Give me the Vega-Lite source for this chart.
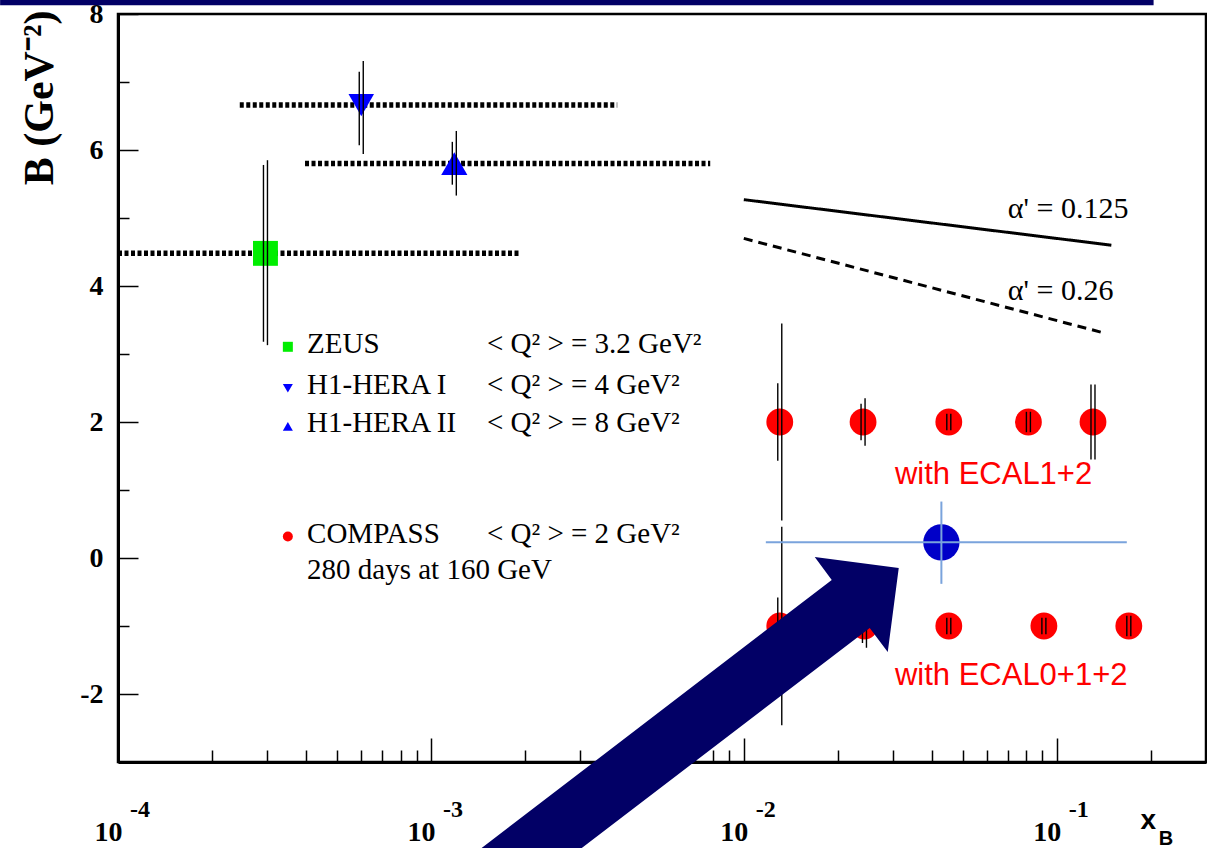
{
  "$schema": "https://vega.github.io/schema/vega-lite/v6.json",
  "width": 1088,
  "height": 748,
  "autosize": {"type": "none"},
  "padding": {"left": 118, "top": 14, "right": 1, "bottom": 86},
  "background": "white",
  "config": {
    "view": {"stroke": "#000000", "strokeWidth": 2.5},
    "axis": {"grid": false}
  },
  "datasets": {
    "measurements": [
      {"series": "ZEUS", "x": 0.000296, "B": 4.48, "xlo": 0.0001, "xhi": 0.00193, "stat_lo": 3.18, "stat_hi": 5.78, "tot_lo": 3.13, "tot_hi": 5.85},
      {"series": "H1-HERA I", "x": 0.000599, "B": 6.66, "xlo": 0.000245, "xhi": 0.00394, "stat_lo": 6.07, "stat_hi": 7.15, "tot_lo": 5.94, "tot_hi": 7.31},
      {"series": "H1-HERA II", "x": 0.001188, "B": 5.8, "xlo": 0.000396, "xhi": 0.00781, "stat_lo": 5.49, "stat_hi": 6.12, "tot_lo": 5.33, "tot_hi": 6.28},
      {"series": "COMPASS", "setup": "ECAL1+2", "x": 0.01303, "B": 2, "stat_lo": 1.43, "stat_hi": 2.57, "tot_lo": 0.55, "tot_hi": 3.45},
      {"series": "COMPASS", "setup": "ECAL1+2", "x": 0.02405, "B": 2, "stat_lo": 1.73, "stat_hi": 2.27, "tot_lo": 1.65, "tot_hi": 2.35},
      {"series": "COMPASS", "setup": "ECAL1+2", "x": 0.0452, "B": 2, "stat_lo": 1.88, "stat_hi": 2.12, "tot_lo": 1.88, "tot_hi": 2.12},
      {"series": "COMPASS", "setup": "ECAL1+2", "x": 0.0812, "B": 2, "stat_lo": 1.85, "stat_hi": 2.15, "tot_lo": 1.85, "tot_hi": 2.15},
      {"series": "COMPASS", "setup": "ECAL1+2", "x": 0.1306, "B": 2, "stat_lo": 1.45, "stat_hi": 2.55, "tot_lo": 1.45, "tot_hi": 2.55},
      {"series": "COMPASS", "setup": "ECAL0+1+2", "x": 0.01303, "B": -1, "stat_lo": -1.42, "stat_hi": -0.58, "tot_lo": -2.46, "tot_hi": 0.46},
      {"series": "COMPASS", "setup": "ECAL0+1+2", "x": 0.0243, "B": -1, "stat_lo": -1.25, "stat_hi": -0.75, "tot_lo": -1.32, "tot_hi": -0.68},
      {"series": "COMPASS", "setup": "ECAL0+1+2", "x": 0.0452, "B": -1, "stat_lo": -1.12, "stat_hi": -0.88, "tot_lo": -1.12, "tot_hi": -0.88},
      {"series": "COMPASS", "setup": "ECAL0+1+2", "x": 0.091, "B": -1, "stat_lo": -1.12, "stat_hi": -0.88, "tot_lo": -1.12, "tot_hi": -0.88},
      {"series": "COMPASS", "setup": "ECAL0+1+2", "x": 0.17, "B": -1, "stat_lo": -1.15, "stat_hi": -0.85, "tot_lo": -1.15, "tot_hi": -0.85}
    ],
    "projection": [
      {"x": 0.0428, "B": 0.23, "xlo": 0.01176, "xhi": 0.1675, "ylo": -0.38, "yhi": 0.83}
    ],
    "regge": [
      {"alpha": "0.125", "x": 0.01, "B": 5.27},
      {"alpha": "0.125", "x": 0.1495, "B": 4.6},
      {"alpha": "0.26", "x": 0.01, "B": 4.7},
      {"alpha": "0.26", "x": 0.1442, "B": 3.3}
    ],
    "legend": [
      {"series": "ZEUS", "name": "ZEUS", "q2": "< Q² > = 3.2 GeV²", "B": 3.15},
      {"series": "H1-HERA I", "name": "H1-HERA I", "q2": "< Q² > = 4 GeV²", "B": 2.54},
      {"series": "H1-HERA II", "name": "H1-HERA II", "q2": "< Q² > = 8 GeV²", "B": 1.98},
      {"series": "COMPASS", "name": "COMPASS", "q2": "< Q² > = 2 GeV²", "B": 0.36},
      {"series": null, "name": "280 days at 160 GeV", "q2": "", "B": -0.18}
    ],
    "notes": [
      {"group": "regge", "text": "α' = 0.125", "x": 0.0698, "B": 5.13},
      {"group": "regge", "text": "α' = 0.26", "x": 0.0698, "B": 3.93},
      {"group": "compass", "text": "with ECAL1+2", "x": 0.0304, "B": 1.22},
      {"group": "compass", "text": "with ECAL0+1+2", "x": 0.0304, "B": -1.74},
      {"group": "subscript", "text": "B", "x": 0.212, "B": -4.22},
      {"group": "exponent", "text": "-4", "x": 0.0001, "B": -3.81},
      {"group": "exponent", "text": "-3", "x": 0.001, "B": -3.81},
      {"group": "exponent", "text": "-2", "x": 0.01, "B": -3.81},
      {"group": "exponent", "text": "-1", "x": 0.1, "B": -3.81}
    ],
    "decor": [
      {"part": "banner", "x": 0.000042, "x2": 0.204, "B": 8.13, "B2": 8.3},
      {"part": "arrow", "x": 0.00525, "B": -2.507}
    ]
  },
  "layer": [
    {
      "data": {"name": "measurements"},
      "transform": [{"filter": "isValid(datum.xlo)"}],
      "mark": {"type": "rule", "color": "#000000", "strokeWidth": 5.5, "strokeDash": [4, 2.5]},
      "encoding": {
        "x": {
          "field": "xlo",
          "type": "quantitative",
          "scale": {"type": "log", "domain": [0.0001, 0.3], "nice": false},
          "axis": {
            "values": [0.0001, 0.0002, 0.0003, 0.0004, 0.0005, 0.0006, 0.0007, 0.0008, 0.0009,
                       0.001, 0.002, 0.003, 0.004, 0.005, 0.006, 0.007, 0.008, 0.009,
                       0.01, 0.02, 0.03, 0.04, 0.05, 0.06, 0.07, 0.08, 0.09, 0.1, 0.2],
            "title": "x",
            "titleFont": "Liberation Sans",
            "titleFontSize": 28,
            "titleFontWeight": "bold",
            "titleColor": "#000000",
            "titleAngle": 0,
            "titleX": 1022,
            "titleY": 66,
            "titleAlign": "left",
            "titleBaseline": "alphabetic",
            "domainColor": "#000000",
            "domainWidth": 3,
            "tickColor": "#000000",
            "tickWidth": 1.5,
            "tickSize": {"condition": {"test": "abs(log(datum.value)/LN10 - round(log(datum.value)/LN10)) < 1e-6", "value": -24}, "value": -12},
            "labelExpr": "abs(log(datum.value)/LN10 - round(log(datum.value)/LN10)) < 1e-6 ? '10' : ''",
            "labelFont": "Liberation Serif",
            "labelFontSize": 28,
            "labelFontWeight": "bold",
            "labelColor": "#000000",
            "labelAlign": "left",
            "labelBaseline": "alphabetic",
            "labelOffset": -24,
            "labelPadding": 102,
            "labelFlush": false,
            "labelOverlap": false,
            "labelBound": false
          }
        },
        "x2": {"field": "xhi"},
        "y": {
          "field": "B",
          "type": "quantitative",
          "scale": {"domain": [-3, 8], "nice": false, "zero": false},
          "axis": {
            "values": [-3, -2.5, -2, -1.5, -1, -0.5, 0, 0.5, 1, 1.5, 2, 2.5, 3, 3.5, 4, 4.5, 5, 5.5, 6, 6.5, 7, 7.5, 8],
            "title": "B (GeV⁻²)",
            "titleFont": "Liberation Serif",
            "titleFontSize": 42,
            "titleFontWeight": "bold",
            "titleColor": "#000000",
            "titleAngle": 270,
            "titleX": -66,
            "titleY": -4,
            "titleAlign": "right",
            "titleBaseline": "alphabetic",
            "domainColor": "#000000",
            "domainWidth": 3,
            "tickColor": "#000000",
            "tickWidth": 1.5,
            "tickSize": {"condition": {"test": "datum.value % 2 === 0", "value": -20}, "value": -11},
            "labelExpr": "datum.value % 2 === 0 ? '' + datum.value : ''",
            "labelFont": "Liberation Serif",
            "labelFontSize": 28,
            "labelFontWeight": "bold",
            "labelColor": "#000000",
            "labelBaseline": "middle",
            "labelPadding": 35,
            "labelFlush": false,
            "labelOverlap": false,
            "labelBound": false
          }
        }
      }
    },
    {
      "data": {"name": "regge"},
      "mark": {"type": "line", "color": "#000000", "strokeWidth": 3},
      "encoding": {
        "x": {"field": "x", "type": "quantitative"},
        "y": {"field": "B", "type": "quantitative"},
        "strokeDash": {"field": "alpha", "type": "nominal", "scale": {"domain": ["0.125", "0.26"], "range": [[1, 0], [9, 6]]}, "legend": null}
      }
    },
    {
      "data": {"name": "measurements"},
      "mark": {"type": "point", "filled": true, "opacity": 1, "strokeWidth": 0},
      "encoding": {
        "x": {"field": "x", "type": "quantitative"},
        "y": {"field": "B", "type": "quantitative"},
        "color": {"field": "series", "type": "nominal", "scale": {"domain": ["ZEUS", "H1-HERA I", "H1-HERA II", "COMPASS"], "range": ["#00ee00", "#0000ff", "#0000ff", "#ff0000"]}, "legend": null},
        "shape": {"field": "series", "type": "nominal", "scale": {"domain": ["ZEUS", "H1-HERA I", "H1-HERA II", "COMPASS"], "range": ["square", "triangle-down", "triangle-up", "circle"]}, "legend": null},
        "size": {"field": "series", "type": "nominal", "scale": {"domain": ["ZEUS", "H1-HERA I", "H1-HERA II", "COMPASS"], "range": [620, 720, 720, 680]}, "legend": null}
      }
    },
    {
      "data": {"name": "measurements"},
      "mark": {"type": "rule", "color": "#000000", "strokeWidth": 1.4, "xOffset": -2},
      "encoding": {
        "x": {"field": "x", "type": "quantitative"},
        "y": {"field": "stat_lo", "type": "quantitative"},
        "y2": {"field": "stat_hi"}
      }
    },
    {
      "data": {"name": "measurements"},
      "mark": {"type": "rule", "color": "#000000", "strokeWidth": 1.4, "xOffset": 2},
      "encoding": {
        "x": {"field": "x", "type": "quantitative"},
        "y": {"field": "tot_lo", "type": "quantitative"},
        "y2": {"field": "tot_hi"}
      }
    },
    {
      "data": {"name": "projection"},
      "mark": {"type": "point", "filled": true, "opacity": 1, "strokeWidth": 0, "color": "#0000c8", "size": 1320},
      "encoding": {
        "x": {"field": "x", "type": "quantitative"},
        "y": {"field": "B", "type": "quantitative"}
      }
    },
    {
      "data": {"name": "projection"},
      "mark": {"type": "rule", "color": "#7aa3dc", "strokeWidth": 2},
      "encoding": {
        "x": {"field": "xlo", "type": "quantitative"},
        "x2": {"field": "xhi"},
        "y": {"field": "B", "type": "quantitative"}
      }
    },
    {
      "data": {"name": "projection"},
      "mark": {"type": "rule", "color": "#7aa3dc", "strokeWidth": 2},
      "encoding": {
        "x": {"field": "x", "type": "quantitative"},
        "y": {"field": "ylo", "type": "quantitative"},
        "y2": {"field": "yhi"}
      }
    },
    {
      "data": {"name": "legend"},
      "transform": [{"filter": "isValid(datum.series)"}],
      "mark": {"type": "point", "filled": true, "opacity": 1, "strokeWidth": 0, "size": 100, "yOffset": 3},
      "encoding": {
        "x": {"datum": 0.000349, "type": "quantitative"},
        "y": {"field": "B", "type": "quantitative"},
        "color": {"field": "series", "type": "nominal", "legend": null},
        "shape": {"field": "series", "type": "nominal", "legend": null}
      }
    },
    {
      "data": {"name": "legend"},
      "mark": {"type": "text", "font": "Liberation Serif", "fontSize": 29, "align": "left", "baseline": "middle", "color": "#000000"},
      "encoding": {
        "x": {"datum": 0.000402, "type": "quantitative"},
        "y": {"field": "B", "type": "quantitative"},
        "text": {"field": "name"}
      }
    },
    {
      "data": {"name": "legend"},
      "mark": {"type": "text", "font": "Liberation Serif", "fontSize": 29, "align": "left", "baseline": "middle", "color": "#000000"},
      "encoding": {
        "x": {"datum": 0.00151, "type": "quantitative"},
        "y": {"field": "B", "type": "quantitative"},
        "text": {"field": "q2"}
      }
    },
    {
      "data": {"name": "notes"},
      "transform": [{"filter": "datum.group === 'regge'"}],
      "mark": {"type": "text", "font": "Liberation Serif", "fontSize": 30, "align": "left", "baseline": "middle", "color": "#000000"},
      "encoding": {
        "x": {"field": "x", "type": "quantitative"},
        "y": {"field": "B", "type": "quantitative"},
        "text": {"field": "text"}
      }
    },
    {
      "data": {"name": "notes"},
      "transform": [{"filter": "datum.group === 'compass'"}],
      "mark": {"type": "text", "font": "Liberation Sans", "fontSize": 31, "align": "left", "baseline": "middle", "color": "#ff0000"},
      "encoding": {
        "x": {"field": "x", "type": "quantitative"},
        "y": {"field": "B", "type": "quantitative"},
        "text": {"field": "text"}
      }
    },
    {
      "data": {"name": "notes"},
      "transform": [{"filter": "datum.group === 'subscript'"}],
      "mark": {"type": "text", "font": "Liberation Sans", "fontSize": 20, "fontWeight": "bold", "align": "left", "baseline": "alphabetic", "color": "#000000"},
      "encoding": {
        "x": {"field": "x", "type": "quantitative"},
        "y": {"field": "B", "type": "quantitative"},
        "text": {"field": "text"}
      }
    },
    {
      "data": {"name": "notes"},
      "transform": [{"filter": "datum.group === 'exponent'"}],
      "mark": {"type": "text", "font": "Liberation Serif", "fontSize": 24, "fontWeight": "bold", "align": "left", "baseline": "alphabetic", "dx": 12, "color": "#000000"},
      "encoding": {
        "x": {"field": "x", "type": "quantitative"},
        "y": {"field": "B", "type": "quantitative"},
        "text": {"field": "text"}
      }
    },
    {
      "data": {"name": "decor"},
      "transform": [{"filter": "datum.part === 'banner'"}],
      "mark": {"type": "rect", "color": "#020066"},
      "encoding": {
        "x": {"field": "x", "type": "quantitative"},
        "x2": {"field": "x2"},
        "y": {"field": "B", "type": "quantitative"},
        "y2": {"field": "B2"}
      }
    },
    {
      "data": {"name": "decor"},
      "transform": [{"filter": "datum.part === 'arrow'"}],
      "mark": {
        "type": "point",
        "filled": true,
        "opacity": 1,
        "strokeWidth": 0,
        "color": "#020066",
        "size": 250000,
        "shape": "M -0.97 0.686 L 0.702 -0.594 L 0.634 -0.686 L 0.97 -0.642 L 0.926 -0.306 L 0.854 -0.402 L -0.57 0.686 Z"
      },
      "encoding": {
        "x": {"field": "x", "type": "quantitative"},
        "y": {"field": "B", "type": "quantitative"}
      }
    }
  ]
}
